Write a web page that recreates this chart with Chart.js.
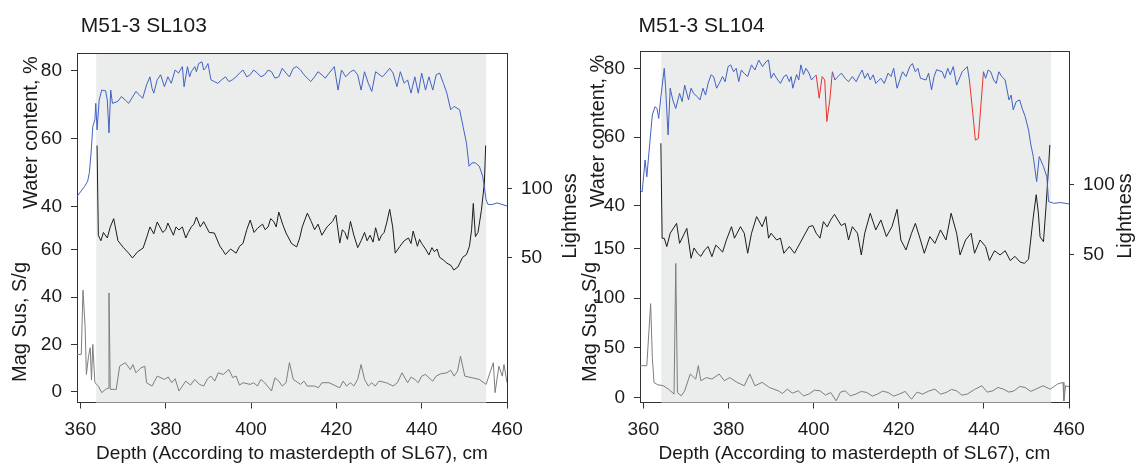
<!DOCTYPE html>
<html>
<head>
<meta charset="utf-8">
<script src="https://cdn.jsdelivr.net/npm/chart.js@4.4.1/dist/chart.umd.min.js"></script>
<style>
  html, body { margin: 0; padding: 0; background: #fff; }
  #wrap { position: relative; width: 1136px; height: 474px; }
  #wrap canvas { position: absolute; left: 0; top: 0; }
</style>
</head>
<body>
<div id="wrap">
  <canvas id="sl103" width="1136" height="474"></canvas>
  <canvas id="sl104" width="1136" height="474"></canvas>
</div>
<script>
const FONT = '"Liberation Sans", Arial, sans-serif';
const INK = '#1a1a1a';
const AXIS = '#333333';
const BLUE = '#4262c4';
const RED = '#e8352e';
const BLACK = '#1c1c1c';
const GREY = '#7d7d7d';
const SHADE = '#ebecec';

// tick labels
const depthTicks = [360, 380, 400, 420, 440, 460];
const waterTicks = [40, 60, 80];
const lightTicks = [50, 100];
const magTicks103 = [0, 20, 40, 60];
const magTicks104 = [0, 50, 100, 150];

// grey band (core section), cm
const core103 = [363.7, 455.1];
const core104 = [364.2, 455.8];
// red parts of the SL104 water content curve
const flagged104 = [[400.6, 404.4], [436.6, 439.9]];

// ---- SL103 ----
const wcDepth103 = [
  359.2, 361.0, 361.7, 362.1, 362.5, 362.9, 363.4, 363.6, 363.9, 364.4,
  365.0, 365.9, 366.3, 366.7, 367.1, 367.5, 368.8, 369.6, 370.5, 371.3,
  372.2, 373.0, 373.8, 374.6, 375.5, 376.3, 376.8, 377.2, 378.0, 378.8,
  379.7, 380.5, 381.3, 382.2, 383.0, 383.9, 384.3, 385.1, 385.6, 386.0,
  386.8, 387.2, 387.7, 388.5, 388.9, 389.3, 389.9, 390.6, 391.4, 392.2,
  393.1, 394.0, 394.8, 395.6, 396.5, 397.3, 398.1, 399.0, 399.8, 400.6,
  401.5, 402.3, 403.2, 404.0, 404.8, 405.6, 406.5, 407.3, 408.2, 409.0,
  409.9, 410.7, 411.6, 412.4, 413.2, 414.0, 414.9, 415.7, 416.6, 417.4,
  418.3, 418.9, 419.5, 420.4, 421.2, 422.2, 423.3, 424.1, 425.0, 425.8,
  426.6, 427.5, 428.3, 429.2, 430.8, 431.6, 432.5, 433.3, 434.2, 435.0,
  435.9, 436.7, 437.5, 438.4, 439.2, 440.0, 440.9, 441.7, 442.6, 443.4,
  444.2, 445.1, 445.9, 446.8, 447.6, 448.9, 449.7, 450.5, 451.1, 451.8,
  452.6, 453.5, 454.3, 455.1, 455.5, 456.4, 457.7, 460.0
];
const water103 = [
  43, 46, 47.5, 50, 55.8, 63.6, 65.6, 70.4, 62.6, 71.4,
  74.3, 74.1, 71.4, 61.7, 74.3, 70.4, 71, 72.4, 71.4, 70.4,
  72.2, 73.9, 72.9, 71.9, 75.8, 78.2, 74.8, 73.4, 77.3, 78.8,
  75.3, 78.2, 76.3, 80.2, 79.3, 81.2, 75.3, 81.2, 78.2, 79.7,
  81.2, 79.7, 82.1, 82.6, 80.2, 80.7, 82.1, 77.3, 76.8, 76.3,
  77.3, 78.2, 76.8, 77.3, 78.2, 79.3, 80.2, 78.2, 78.8, 80.2,
  79.3, 78.2, 78.8, 80.2, 79.7, 77.8, 78.2, 80.7, 79.3, 78.2,
  80.7, 81.2, 80.2, 78.8, 77.8, 76.8, 78.2, 79.7, 78.8, 77.8,
  79.3, 80.2, 81.2, 74.3, 80.2, 78.2, 79.7, 80.2, 78.8, 74.3,
  79.7, 76.3, 73.9, 79.7, 78.2, 79.3, 80.7, 79.3, 75.3, 79.7,
  76.3, 77.3, 73.4, 78.2, 73.4, 79.3, 74.3, 78.2, 74.3, 78.8,
  79.3, 76.3, 73.4, 68.5, 69.5, 68.5, 63.6, 58.7, 51.9, 52.9,
  52.9, 51.9, 49, 42.1, 40.7, 40.6, 41.1, 40.2
];

const ltDepth103 = [
  363.9, 364.2, 364.8, 365.4, 366.3, 367.0, 367.8, 368.8, 370.1, 371.3,
  372.2, 373.4, 374.7, 375.7, 376.3, 377.2, 378.0, 379.3, 380.0, 380.5,
  381.8, 382.4, 383.1, 383.9, 384.7, 385.3, 386.0, 386.6, 387.2, 388.1,
  388.9, 390.2, 391.4, 392.7, 393.4, 394.0, 395.2, 396.5, 397.3, 398.1,
  399.0, 399.8, 400.7, 401.5, 402.7, 403.3, 404.0, 404.6, 405.3, 405.9,
  406.5, 407.4, 408.2, 409.5, 410.7, 411.4, 412.0, 413.2, 414.1, 414.9,
  415.7, 416.6, 417.8, 419.1, 419.9, 420.8, 421.4, 422.0, 422.6, 423.3,
  424.1, 425.0, 425.8, 426.6, 427.2, 427.9, 428.6, 429.2, 430.0, 430.6,
  431.2, 431.8, 432.5, 433.2, 433.8, 434.9, 435.9, 436.9, 437.5, 438.0,
  439.0, 439.5, 440.0, 440.9, 441.7, 442.4, 443.0, 443.6, 444.2, 445.1,
  445.9, 446.9, 447.5, 448.5, 449.6, 450.5, 451.2, 451.7, 452.1, 452.6,
  453.2, 454.0, 454.7, 455.0
];
const light103 = [
  131, 66, 62, 68, 64, 72, 78, 62, 57, 53,
  49.5, 54, 56.7, 66, 72, 67, 75.6, 68, 70, 74.8,
  66, 72, 69.8, 72, 64, 68, 72, 74, 79.2, 72,
  75.8, 68, 67.6, 58, 55, 52, 56, 53, 58, 60,
  70, 77, 68, 71, 74, 70, 72, 78, 76, 72,
  82.8, 74, 67.6, 60, 57.5, 64, 72, 82, 76, 70,
  74, 66, 72, 76, 80.6, 60.3, 70, 68, 63, 76,
  66, 57, 62, 68, 62, 66, 61, 71.4, 62, 66,
  68, 75, 84.8, 72, 53, 58, 62, 64, 60, 69,
  58, 63, 60, 56, 51.7, 57, 54, 56, 50, 48,
  45.8, 44, 40.8, 43, 50, 52, 58, 70, 89, 65,
  68, 84, 104, 131
];

const msDepth103 = [
  359.2, 360.2, 360.6, 361.1, 361.4, 361.9, 362.3, 362.6, 362.9, 363.4,
  364.2, 365.0, 365.9, 366.5, 366.7, 367.0, 368.4, 369.2, 370.5, 371.7,
  372.3, 373.0, 374.2, 375.1, 375.5, 376.8, 377.4, 378.0, 379.7, 380.6,
  381.4, 382.2, 383.1, 384.7, 385.8, 386.8, 387.9, 388.9, 389.8, 390.6,
  391.5, 392.3, 393.5, 394.8, 395.7, 396.5, 397.3, 398.1, 399.8, 400.6,
  401.5, 402.3, 403.2, 404.8, 405.6, 406.5, 407.3, 408.2, 409.0, 409.9,
  410.8, 411.6, 412.4, 413.2, 414.9, 415.8, 416.6, 418.3, 419.9, 420.8,
  421.6, 422.4, 423.3, 424.1, 425.0, 425.8, 426.6, 427.5, 428.3, 429.1,
  430.0, 431.7, 433.3, 434.3, 435.4, 436.7, 437.5, 438.4, 439.2, 440.0,
  440.9, 441.7, 442.6, 443.4, 444.5, 445.9, 446.8, 447.6, 448.4, 449.1,
  450.1, 451.8, 453.5, 455.1, 456.0, 456.8, 457.2, 458.1, 458.9, 459.3,
  460.0
];
const mag103 = [
  15.8, 15.8, 43, 27.7, 7.3, 15, 18.6, 5, 20, 3.8,
  2.4, -0.4, 1, 1.5, 41.8, 1, 1, 10.8, 12.3, 9.4,
  11.5, 8, 10.1, 10.8, 3.8, 2.4, 4.5, 6.6, 5.2, 6.2,
  3.8, 5.5, 0.3, 4.5, 2.8, 5.2, 3.1, 2.4, 5.5, 6.6,
  4.5, 8, 7.3, 9.4, 6.0, 6.6, 2.8, 3.8, 3.1, 3.8,
  2.4, 5.2, 3.8, 0.3, 5.9, 4.5, 2.4, 3.8, 12.3, 5.2,
  4.1, 3.1, 4.5, 2.4, 2.4, 1.7, 3.8, 3.8, 2.4, 1.7,
  4.5, 2.4, 3.8, 2.4, 5.2, 11.5, 5.2, 2.4, 3.8, 2.4,
  4.5, 3.8, 2.4, 3.8, 8, 3.8, 6.2, 5.2, 3.8, 6.6,
  7.3, 5.9, 4.5, 6.6, 7.6, 8, 9.1, 6.6, 8.7, 15,
  6.6, 5.9, 5.2, 3.1, 8, 12.3, -0.4, 10.8, 6.6, 11.5,
  3.8
];

// ---- SL104 ----
const wcDepth104 = [
  359.2, 359.7, 360.4, 360.8, 361.5, 362.1, 362.7, 363.2, 363.6, 364.1,
  364.9, 365.2, 365.8, 366.3, 366.9, 367.6, 368.5, 369.1, 369.7, 370.6,
  371.2, 371.8, 372.7, 373.3, 374.0, 374.6, 375.2, 375.9, 376.5, 377.2,
  377.8, 378.6, 379.2, 379.9, 380.5, 381.2, 381.8, 382.4, 383.0, 383.7,
  384.5, 385.4, 386.2, 387.1, 388.0, 388.8, 389.4, 390.0, 390.6, 391.3,
  392.2, 393.0, 393.6, 394.3, 394.7, 395.1, 396.0, 396.5, 397.0, 397.6,
  398.2, 398.9, 399.5, 400.2, 400.6, 401.3, 402.0, 402.6, 403.1, 403.8,
  404.4, 405.0, 405.7, 406.5, 407.4, 408.2, 409.1, 410.0, 410.8, 411.4,
  412.0, 412.7, 413.3, 414.0, 414.6, 415.8, 416.6, 417.5, 418.2, 418.8,
  419.6, 420.9, 421.7, 422.6, 423.2, 423.9, 424.5, 425.1, 426.4, 427.0,
  427.7, 428.3, 428.9, 430.2, 430.8, 431.5, 432.1, 432.8, 433.6, 434.9,
  436.1, 436.6, 437.4, 438.0, 438.7, 439.4, 439.9, 440.4, 441.0, 441.6,
  442.3, 442.9, 443.5, 444.2, 445.0, 445.9, 446.4, 446.9, 447.6, 448.4,
  449.0, 449.7, 450.5, 451.0, 451.6, 452.4, 453.0, 454.0, 454.8, 455.2,
  456.4, 458.1, 460.0
];
const water104 = [
  44.6, 44, 53.3, 48.4, 58.2, 66.4, 68.8, 68.3, 65.4, 71.7,
  80, 74.7, 60.6, 74.2, 70.8, 68.3, 72.7, 70.3, 75.1, 70.8,
  74.2, 72.7, 71.7, 70.8, 74.2, 72.2, 75.6, 78.1, 77.6, 74.2,
  75.6, 77.6, 76.1, 80.5, 81, 79, 80, 76.1, 79.5, 78.5,
  77.6, 81, 79.5, 82.4, 80.5, 81.9, 82.4, 77.1, 78.6, 77.1,
  75.6, 77.6, 78.1, 76.1, 77.6, 74.2, 78.2, 76.6, 81, 78.2,
  80, 78.6, 76.6, 77.6, 78, 71.3, 77.6, 76.6, 64.5, 70.8,
  79, 76.6, 77.6, 78.6, 77.1, 76.1, 77.6, 76.1, 78.2, 79.5,
  77.1, 78.6, 76.6, 78.1, 75.6, 77.1, 75.6, 78.6, 77.6, 80,
  74.2, 79, 77.6, 80.5, 81.4, 79, 80, 77.1, 76.6, 78.6,
  73.7, 77.6, 79.6, 79, 77.1, 80, 78.1, 80.5, 75.1, 79,
  80.5, 76.6, 66.9, 59.1, 59.6, 70.8, 79, 77.1, 79.5, 79,
  76.6, 75.6, 79, 77.6, 76.6, 70.8, 72.2, 67.9, 70.3, 70.8,
  68.3, 66, 62, 58, 54.3, 47, 54.3, 51.4, 48.4, 41.2,
  40.7, 40.9, 40.5
];

const ltDepth104 = [
  364.1, 364.4, 364.9, 365.5, 366.3, 367.8, 368.5, 370.2, 371.2, 371.9,
  372.7, 373.5, 374.4, 375.2, 376.1, 377.0, 377.8, 378.6, 379.5, 380.7,
  381.4, 382.0, 382.8, 383.7, 384.5, 385.4, 386.6, 387.9, 388.8, 389.4,
  390.0, 391.3, 392.2, 393.0, 394.3, 395.5, 397.2, 398.9, 399.8, 400.6,
  401.5, 402.3, 403.2, 404.0, 404.9, 405.7, 406.5, 407.4, 408.2, 409.1,
  410.3, 411.2, 412.0, 413.3, 414.6, 415.8, 417.1, 418.4, 419.6, 420.5,
  421.7, 423.0, 423.9, 425.1, 426.0, 427.3, 428.5, 429.8, 431.1, 432.3,
  433.6, 434.4, 435.7, 437.0, 437.8, 439.1, 440.4, 441.3, 442.5, 443.8,
  445.0, 446.2, 447.3, 448.5, 449.5, 450.5, 451.6, 452.3, 452.8, 453.2,
  454.0, 454.6, 455.2, 455.5
];
const light104 = [
  129.8, 61.9, 61.9, 56, 65.5, 72.6, 58.3, 69, 47.6, 55,
  51.2, 49, 53.6, 56, 48.8, 57, 54.8, 52, 60.7, 70.2,
  62, 65.5, 70.2, 65.5, 51.2, 65.5, 77.4, 70.2, 77.4, 62,
  65.5, 60.7, 62, 51.2, 56, 51.2, 60.7, 70.2, 71, 65.5,
  62, 73.8, 70, 75, 79, 75, 71, 72.6, 60.7, 70.2,
  65.5, 50, 65.5, 79.8, 67.9, 75, 63.1, 70.2, 82.6, 60.7,
  53.6, 65.5, 72.6, 60.7, 51.2, 63.1, 58.3, 67.9, 60.7, 79.8,
  65.5, 50, 60.7, 65.5, 51.2, 60.7, 56, 46, 53, 50,
  53, 46, 49, 45, 44, 47, 77, 93, 80, 63,
  59.5, 84.5, 113, 128.6
];

const msDepth104 = [
  359.2, 360.8, 361.3, 361.7, 362.1, 362.5, 363.4, 364.7, 365.9, 367.2,
  367.6, 368.0, 368.9, 369.7, 371.0, 372.3, 372.9, 373.5, 374.8, 376.1,
  377.8, 379.0, 380.3, 382.0, 383.7, 385.0, 386.2, 387.9, 389.6, 391.7,
  392.7, 393.8, 395.0, 396.4, 397.6, 398.9, 400.2, 401.5, 402.8, 404.0,
  405.3, 406.3, 407.4, 408.6, 409.9, 411.2, 412.5, 413.8, 415.0, 416.2,
  417.5, 418.8, 420.1, 421.5, 423.0, 424.3, 425.6, 427.0, 428.5, 429.8,
  431.1, 432.4, 433.6, 434.8, 436.1, 437.8, 439.5, 440.8, 442.1, 443.3,
  444.6, 445.9, 447.1, 448.4, 449.7, 451.0, 452.2, 453.9, 455.6, 457.3,
  458.6, 458.8, 459.2, 460.0
];
const mag104 = [
  32, 32, 67, 94.4, 40, 15, 12.8, 11.8, 8.4, 3.4,
  134.8, 5, 1.7, 6.7, 23.6, 18.5, 32, 16.9, 20, 18.5,
  23.6, 16.9, 20, 15.2, 11.8, 23.6, 11.8, 15.2, 10.1, 6.7,
  4.0, 8.4, 4.4, 6.7, 1.7, 3.4, 7.4, 6.7, 2.4, 5,
  -3.4, 5.4, 6.7, 1.7, 3.4, 6.1, 5, 1.4, 3.4, 6.4,
  5, 1.4, 3.4, 6.1, -1.7, 5.4, 3.4, 6.4, 8.4, 3.4,
  5, 8.1, 6.7, 2.4, 3.4, 8.1, 11.8, 5.4, 6.7, 10.1,
  8.4, 5.4, 6.7, 11.1, 10.1, 6.1, 8.4, 11.8, 8.4, 13.5,
  15.2, -3.4, 11.8, 10.8
];

const pts = (xs, ys) => xs.map((x, i) => ({ x, y: ys[i] }));

// shaded core interval behind the curves
const coreBand = {
  id: 'coreBand',
  beforeDatasetsDraw(chart, args, opts) {
    const { ctx, chartArea: a, scales: { x } } = chart;
    const x0 = x.getPixelForValue(opts.range[0]);
    const x1 = x.getPixelForValue(opts.range[1]);
    ctx.save();
    ctx.fillStyle = opts.color;
    ctx.fillRect(x0, a.top, x1 - x0, a.bottom - a.top);
    ctx.restore();
  }
};

// panel title, R-style rotated axis titles, top edge of the box
const panelText = {
  id: 'panelText',
  afterDraw(chart, args, o) {
    const { ctx, chartArea: a } = chart;
    ctx.save();
    ctx.fillStyle = INK;
    ctx.font = `21px ${FONT}`;
    ctx.textAlign = 'left';
    ctx.textBaseline = 'alphabetic';
    ctx.fillText(o.title, o.titleX, o.titleY);

    ctx.font = `20px ${FONT}`;
    ctx.textAlign = 'center';
    ctx.textBaseline = 'middle';
    o.side.forEach(t => {
      ctx.save();
      ctx.translate(t.x, t.y);
      ctx.rotate(-Math.PI / 2);
      ctx.fillText(t.text, 0, 0);
      ctx.restore();
    });

    ctx.strokeStyle = AXIS;
    ctx.lineWidth = 1;
    ctx.beginPath();
    ctx.moveTo(a.left, Math.round(a.top) + 0.5);
    ctx.lineTo(a.right, Math.round(a.top) + 0.5);
    ctx.stroke();
    ctx.restore();
  }
};

const tickFont = { family: FONT, size: 19 };

function yAxis(position, min, max, ticks, extra) {
  return Object.assign({
    type: 'linear',
    position,
    min,
    max,
    afterBuildTicks: s => { s.ticks = ticks.map(value => ({ value })); },
    afterFit: s => { s.width = position === 'left' ? 77 : 60; },
    ticks: { autoSkip: false, color: INK, font: tickFont, padding: 9 },
    grid: { drawOnChartArea: false, color: AXIS, tickLength: position === 'left' ? 6 : 5 },
    border: { color: AXIS },
    title: { display: false }
  }, extra);
}

function panel(id, cfg) {
  return new Chart(document.getElementById(id), {
    type: 'line',
    data: {
      datasets: [
        {
          label: 'Water content',
          data: pts(cfg.wcDepth, cfg.water),
          yAxisID: 'wc',
          borderColor: BLUE,
          segment: {
            borderColor: c => cfg.flagged.some(([a, b]) => c.p0.parsed.x >= a && c.p1.parsed.x <= b) ? RED : undefined
          }
        },
        { label: 'Lightness', data: pts(cfg.ltDepth, cfg.light), yAxisID: 'lt', borderColor: BLACK },
        { label: 'Mag Sus', data: pts(cfg.msDepth, cfg.mag), yAxisID: 'ms', borderColor: GREY }
      ]
    },
    options: {
      responsive: false,
      animation: false,
      events: [],
      layout: { padding: cfg.pad },
      elements: {
        point: { radius: 0 },
        line: { borderWidth: 1, tension: 0, fill: false }
      },
      plugins: {
        legend: { display: false },
        tooltip: { enabled: false },
        coreBand: { range: cfg.core, color: SHADE },
        panelText: cfg.text
      },
      scales: {
        x: {
          type: 'linear',
          position: 'bottom',
          min: 359.2,
          max: 460,
          afterBuildTicks: s => { s.ticks = depthTicks.map(value => ({ value })); },
          afterFit: s => { s.height = 71.5; },
          ticks: { autoSkip: false, maxRotation: 0, color: INK, font: tickFont, padding: 10 },
          grid: { drawOnChartArea: false, color: AXIS, tickLength: 6 },
          border: { color: AXIS },
          title: {
            display: true,
            text: 'Depth (According to masterdepth of SL67), cm',
            color: INK,
            font: { family: FONT, size: 19 },
            padding: { top: 0, bottom: 9 }
          }
        },
        wc: yAxis('left', cfg.wcRange[0], cfg.wcRange[1], waterTicks, { stack: 'left', stackWeight: 1, weight: 2 }),
        ms: yAxis('left', cfg.msRange[0], cfg.msRange[1], cfg.magTicks, { stack: 'left', stackWeight: 1, weight: 1 }),
        lt: yAxis('right', cfg.ltRange[0], cfg.ltRange[1], lightTicks)
      }
    },
    plugins: [coreBand, panelText]
  });
}

panel('sl103', {
  wcDepth: wcDepth103, water: water103,
  ltDepth: ltDepth103, light: light103,
  msDepth: msDepth103, mag: mag103,
  magTicks: magTicks103,
  wcRange: [33.76, 85.12],
  msRange: [-4.57, 69.35],
  ltRange: [-55.2, 197.8],
  core: core103,
  flagged: [],
  pad: { left: 0, top: 53.3, right: 569, bottom: 0 },
  text: {
    title: 'M51-3 SL103', titleX: 80.8, titleY: 31.7,
    side: [
      { text: 'Water content, %', x: 31, y: 132.5 },
      { text: 'Mag Sus, S/g', x: 20.5, y: 322 },
      { text: 'Lightness', x: 570.5, y: 216 }
    ]
  }
});

panel('sl104', {
  wcDepth: wcDepth104, water: water104,
  ltDepth: ltDepth104, light: light104,
  msDepth: msDepth104, mag: mag104,
  magTicks: magTicks104,
  wcRange: [33.87, 85.04],
  msRange: [-5.03, 171.7],
  ltRange: [-55.4, 195.7],
  core: core104,
  flagged: flagged104,
  pad: { left: 563, top: 51, right: 7, bottom: 0 },
  text: {
    title: 'M51-3 SL104', titleX: 638.6, titleY: 31.7,
    side: [
      { text: 'Water content, %', x: 598, y: 131 },
      { text: 'Mag Sus, S/g', x: 590, y: 322 },
      { text: 'Lightness', x: 1125, y: 216 }
    ]
  }
});
</script>
</body>
</html>
